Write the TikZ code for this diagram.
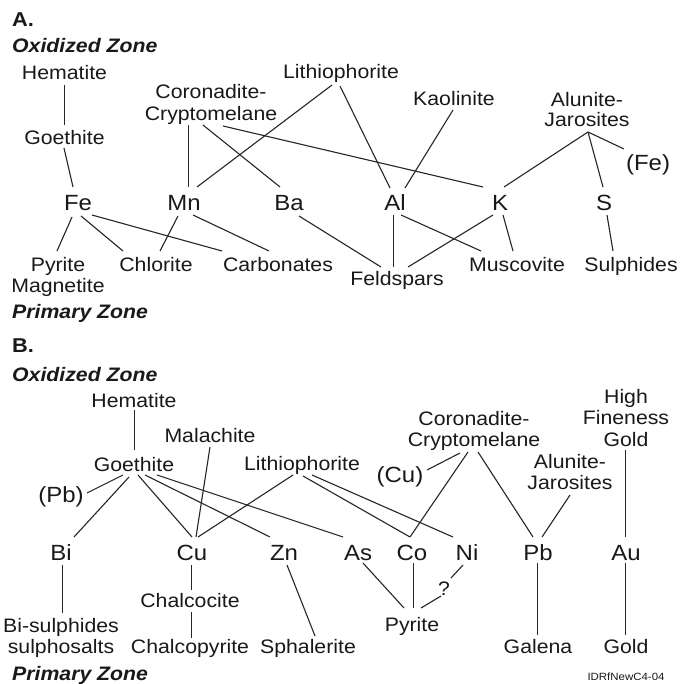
\documentclass[tikz,border=0pt]{standalone}
\usepackage{fontspec}
\setmainfont{Liberation Sans}[FakeStretch=1.09]
\newcommand{\mylink}[4]{\draw[conn] ([shift={(#2)}]#1.base) -- ([shift={(#4)}]#3.base);}
\tikzset{
  mn/.style={anchor=base, inner sep=0pt, align=center, text=black!90, font=\fontsize{19.5}{20.5}\selectfont},
  el/.style={anchor=base, inner sep=0pt, text=black!90, font=\fontsize{22}{24}\selectfont},
  zone/.style={anchor=base west, inner sep=0pt, text=black!90, font=\bfseries\itshape\fontsize{19.5}{21}\selectfont},
  head/.style={anchor=base west, inner sep=0pt, text=black!90, font=\bfseries\fontsize{20}{22}\selectfont},
  conn/.style={line width=1.1pt, draw=black!85},
  tag/.style={anchor=base, inner sep=0pt, text=black!90, font=\fontsize{10.5}{12}\selectfont}
}
\begin{document}
\begin{tikzpicture}[x=1pt,y=-1pt]
\useasboundingbox[fill=white] (0,0) rectangle (682,684);
% ---------------- A ----------------
\node[head] (labA) at (12,27) {A.};
\node[zone] (oxA) at (12,53) {Oxidized Zone};
\node[mn] (hemA) at (64.5,80) {Hematite};
\node[mn] (goeA) at (64.5,145) {Goethite};
\node[mn, font=\fontsize{19.5}{22}\selectfont] (ccA) at (211,121) {Coronadite-\\Cryptomelane};
\node[mn] (lithA) at (341,79) {Lithiophorite};
\node[mn] (kaoA) at (454,106) {Kaolinite};
\node[mn] (aluA) at (587,127) {Alunite-\\Jarosites};
\node[el] (feParA) at (648,171) {(Fe)};
\node[el] (feA) at (78,211) {Fe};
\node[el] (mnA) at (184,211) {Mn};
\node[el] (baA) at (289,211) {Ba};
\node[el] (alA) at (395,211) {Al};
\node[el] (kA) at (500,211) {K};
\node[el] (sA) at (604,211) {S};
\node[mn, font=\fontsize{19.5}{21}\selectfont] (pyrA) at (58,292) {Pyrite\\Magnetite};
\node[mn] (chlA) at (156,271) {Chlorite};
\node[mn] (carbA) at (278,271) {Carbonates};
\node[mn] (feldA) at (397,285) {Feldspars};
\node[mn] (muscA) at (517,271) {Muscovite};
\node[mn] (sulA) at (631,271) {Sulphides};
\node[zone] (priA) at (12,318) {Primary Zone};
\mylink{hemA}{0,5}{goeA}{0,-20}
\mylink{goeA}{-0.5,3}{feA}{-5,-24}
\mylink{ccA}{-22.5,4}{mnA}{4.5,-24}
\mylink{ccA}{-8,4}{baA}{-9,-24}
\mylink{ccA}{12,5}{kA}{-17,-24}
\mylink{lithA}{-9,6}{mnA}{13,-24}
\mylink{lithA}{-1,7}{alA}{-5,-23}
\mylink{kaoA}{-1,4}{alA}{10,-23}
\mylink{aluA}{1,5}{feParA}{-24,-22}
\mylink{aluA}{1,5}{sA}{-1,-24}
\mylink{aluA}{1,5}{kA}{4,-24}
\mylink{feA}{-6,6}{pyrA}{-1,-41}
\mylink{feA}{3,5}{chlA}{-33,-20}
\mylink{feA}{14,4}{carbA}{-56,-20}
\mylink{mnA}{-6,5}{chlA}{4,-20}
\mylink{mnA}{9,4}{carbA}{-9,-20}
\mylink{baA}{10,5}{feldA}{-16,-18}
\mylink{alA}{-1.5,4}{feldA}{-3.5,-18}
\mylink{alA}{6,4}{muscA}{-36,-20}
\mylink{kA}{-7,4}{feldA}{11,-18}
\mylink{kA}{3,4}{muscA}{-4,-20}
\mylink{sA}{3,4}{sulA}{-18,-20}
% ---------------- B ----------------
\node[head] (labB) at (12,352) {B.};
\node[zone] (oxB) at (12,381) {Oxidized Zone};
\node[mn] (hemB) at (134,407) {Hematite};
\node[mn] (goeB) at (134,471) {Goethite};
\node[mn] (malB) at (210,442) {Malachite};
\node[mn] (lithB) at (302,470) {Lithiophorite};
\node[el] (pbParB) at (61,502) {(Pb)};
\node[mn] (ccB) at (474,446) {Coronadite-\\Cryptomelane};
\node[mn, font=\fontsize{19.5}{21.5}\selectfont] (hfgB) at (626,446) {High\\Fineness\\Gold};
\node[mn, font=\fontsize{19.5}{21}\selectfont] (aluB) at (570,489) {Alunite-\\Jarosites};
\node[el] (cuParB) at (400,482) {(Cu)};
\node[el] (biB) at (61,560) {Bi};
\node[el] (cuB) at (192,560) {Cu};
\node[el] (znB) at (284,560) {Zn};
\node[el] (asB) at (358,560) {As};
\node[el] (coB) at (412,560) {Co};
\node[el] (niB) at (467,560) {Ni};
\node[el] (pbB) at (538,560) {Pb};
\node[el] (auB) at (626,560) {Au};
\node[mn] (chalcB) at (190,607) {Chalcocite};
\node[mn] (bisB) at (61,653) {Bi-sulphides\\sulphosalts};
\node[mn] (chpB) at (190,653) {Chalcopyrite};
\node[mn] (sphB) at (308,653) {Sphalerite};
\node[mn] (pyrB) at (412,631) {Pyrite};
\node[mn] (galB) at (538,653) {Galena};
\node[mn] (goldB) at (626,653) {Gold};
\node[mn, inner sep=1.5pt] (qB) at (444,595) {?};
\node[tag] (idB) at (626,680) {IDRfNewC4-04};
\node[zone] (priB) at (12,680) {Primary Zone};
\mylink{hemB}{0.5,3}{goeB}{0.5,-21}
\mylink{goeB}{-11,4}{pbParB}{26,-9}
\mylink{goeB}{-5,6}{biB}{13,-23}
\mylink{goeB}{4,4}{cuB}{0,-23}
\mylink{goeB}{11,4}{znB}{-14,-23}
\mylink{goeB}{23,4}{asB}{-15,-23}
\mylink{malB}{0,5}{cuB}{4,-23}
\mylink{lithB}{-9,5}{cuB}{6,-23}
\mylink{lithB}{1,6}{coB}{-2,-23}
\mylink{lithB}{10,5}{niB}{-14,-23}
\mylink{cuParB}{27,-12}{ccB}{-14,7}
\mylink{ccB}{-6,6}{coB}{-2,-23}
\mylink{ccB}{4,6}{pbB}{-5,-23}
\mylink{aluB}{0,6}{pbB}{4,-23}
\mylink{hfgB}{-0.5,4}{auB}{-0.5,-23}
\mylink{biB}{1.5,5}{bisB}{1.5,-40}
\mylink{cuB}{-0.5,5}{chalcB}{1.5,-17}
\mylink{chalcB}{1.5,5}{chpB}{1.5,-15}
\mylink{znB}{3,5}{sphB}{7,-17}
\mylink{asB}{5,3}{pyrB}{-8,-23}
\mylink{coB}{1.5,3}{pyrB}{1.5,-23}
\mylink{pbB}{-0.5,3}{galB}{-0.5,-18}
\mylink{auB}{-0.5,3}{goldB}{-0.5,-18}
\draw[conn] ([shift={(-4,5)}]niB.base) -- ([shift={(7,-17)}]qB.base);
\draw[conn] ([shift={(-3,1)}]qB.base) -- ([shift={(9,-23)}]pyrB.base);
\end{tikzpicture}
\end{document}
